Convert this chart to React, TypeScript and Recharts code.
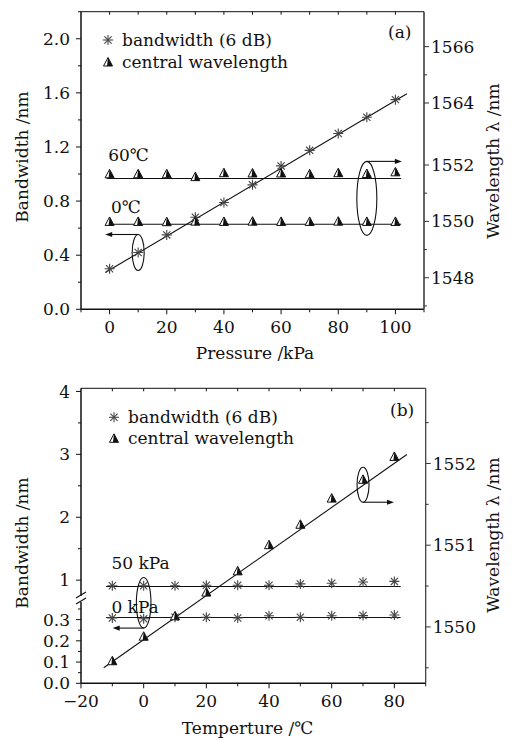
import React from 'react';
import {
  ComposedChart,
  Scatter,
  Line,
  XAxis,
  YAxis,
  ReferenceDot,
  Legend,
  Label,
} from 'recharts';

const FONT = '"DejaVu Serif", "Liberation Serif", serif';
const FS = 17;
const INK = '#111';
const STAR = '#444';

// ---------- panel (a): pressure sweep ----------
const pressureKPa = [0, 10, 20, 30, 40, 50, 60, 70, 80, 90, 100];
const bandwidthA = [0.3, 0.42, 0.55, 0.68, 0.79, 0.92, 1.06, 1.175, 1.3, 1.42, 1.55];
const wavelength60C = [1551.67, 1551.67, 1551.67, 1551.57, 1551.71, 1551.7, 1551.7, 1551.67, 1551.71, 1551.68, 1551.74];
const wavelength0C = [1549.98, 1549.98, 1549.97, 1549.99, 1549.98, 1549.99, 1549.98, 1549.98, 1549.99, 1549.98, 1549.98];
const fitBandwidthA = [
  { x: -1.5, y: 0.272 },
  { x: 104, y: 1.593 },
];
const level60C = [
  { x: -1, y: 1551.52 },
  { x: 102, y: 1551.52 },
];
const level0C = [
  { x: -1, y: 1549.9 },
  { x: 102, y: 1549.9 },
];

const pressureTicks = [-10, 0, 10, 20, 30, 40, 50, 60, 70, 80, 90, 100, 110];
const pressureLabels = ['', '0', '', '20', '', '40', '', '60', '', '80', '', '100', ''];
const bandwidthTicksA = [0, 0.2, 0.4, 0.6, 0.8, 1.0, 1.2, 1.4, 1.6, 1.8, 2.0, 2.2];
const bandwidthLabelsA = ['0.0', '', '0.4', '', '0.8', '', '1.2', '', '1.6', '', '2.0', ''];
// right axis of (a) is broken between 1552 and 1564
const wavelengthTicksA = [1547, 1548, 1549, 1550, 1551, 1552, 1554.2, 1555.2, 1556.2];
const wavelengthLabelsA = ['', '1548', '', '1550', '', '1552', '1564', '', '1566'];

// ---------- panel (b): temperature sweep ----------
const temperatureC = [-10, 0, 10, 20, 30, 40, 50, 60, 70, 80];
const bandwidth50kPa = [0.91, 0.91, 0.91, 0.92, 0.92, 0.92, 0.94, 0.95, 0.97, 0.98];
const bandwidth0kPa = [0.308, 0.304, 0.311, 0.311, 0.308, 0.318, 0.311, 0.318, 0.319, 0.322];
const wavelengthB = [1549.58, 1549.88, 1550.13, 1550.42, 1550.68, 1551.0, 1551.25, 1551.57, 1551.8, 1552.08];
const fitWavelengthB = [
  { x: -12.75, y: 1549.5 },
  { x: 84, y: 1552.11 },
];
const level50kPa = [
  { x: -12, y: 0.9 },
  { x: 82, y: 0.9 },
];
const level0kPa = [
  { x: -12, y: 0.31 },
  { x: 82, y: 0.31 },
];

const temperatureTicks = [-20, -10, 0, 10, 20, 30, 40, 50, 60, 70, 80, 90];
const temperatureLabels = ['\u221220', '', '0', '', '20', '', '40', '', '60', '', '80', ''];
const bandwidthTicksB = [0, 0.05, 0.1, 0.15, 0.2, 0.25, 0.3, 0.35, 1, 1.5, 2, 2.5, 3, 3.5, 4];
const bandwidthLabelsB = ['0.0', '', '0.1', '', '0.2', '', '0.3', '', '1', '', '2', '', '3', '', '4'];
const wavelengthTicksB = [1549.5, 1550, 1550.5, 1551, 1551.5, 1552, 1552.5];
const wavelengthLabelsB = ['', '1550', '', '1551', '', '1552', ''];

// broken left axis of (b): 0–0.4 stretched below, 0.7–4 linear above
const BREAK_LOW = 0.4;
const bwPos = (v: number) => (v <= BREAK_LOW ? -0.64 + 3.375 * v : v);

const pts = (xs: number[], ys: number[], f: (v: number) => number = (v) => v) =>
  xs.map((x, i) => ({ x, y: f(ys[i]) }));
const seg = (d: { x: number; y: number }[], f: (v: number) => number) => d.map((p) => ({ x: p.x, y: f(p.y) }));

// ---------- marks ----------
const StarMark = ({ cx, cy }: { cx: number; cy: number }) => {
  const r = 5;
  const d = 3.6;
  return (
    <g stroke={STAR} strokeWidth={1.1}>
      <line x1={cx - r} y1={cy} x2={cx + r} y2={cy} />
      <line x1={cx} y1={cy - r} x2={cx} y2={cy + r} />
      <line x1={cx - d} y1={cy - d} x2={cx + d} y2={cy + d} />
      <line x1={cx - d} y1={cy + d} x2={cx + d} y2={cy - d} />
    </g>
  );
};

const TriMark = ({ cx, cy }: { cx: number; cy: number }) => (
  <g>
    <path d={`M${cx},${cy - 5}L${cx + 4.5},${cy + 3.5}L${cx - 4.5},${cy + 3.5}Z`} fill="#fff" stroke={INK} strokeWidth={1} />
    <path d={`M${cx},${cy - 5}L${cx + 4.5},${cy + 3.5}L${cx - 1},${cy + 3.5}Z`} fill={INK} />
  </g>
);

const starShape = (p: any) => <StarMark cx={p.cx} cy={p.cy} />;
const triShape = (p: any) => <TriMark cx={p.cx} cy={p.cy} />;

// ---------- ticks ----------
type Side = 'left' | 'right' | 'bottom' | 'top';
function makeTick(side: Side, values: number[], labels: string[]) {
  return (props: any) => {
    const { x, y, payload } = props;
    const i = values.findIndex((v) => Math.abs(v - payload.value) < 1e-6);
    const label = i >= 0 ? labels[i] : '';
    const len = side === 'top' ? 3 : label ? 5 : 3;
    const common = { fontFamily: FONT, fontSize: FS, fill: INK };
    if (side === 'left')
      return (
        <g>
          <line x1={x} y1={y} x2={x - len} y2={y} stroke={INK} />
          {label && (
            <text x={x - 11} y={y} dy="0.36em" textAnchor="end" {...common}>
              {label}
            </text>
          )}
        </g>
      );
    if (side === 'right')
      return (
        <g>
          <line x1={x} y1={y} x2={x + len} y2={y} stroke="#333" />
          {label && (
            <text x={x + 7} y={y} dy="0.36em" textAnchor="start" {...common}>
              {label}
            </text>
          )}
        </g>
      );
    if (side === 'top') return <line x1={x} y1={y} x2={x} y2={y + len} stroke={INK} />;
    return (
      <g>
        <line x1={x} y1={y} x2={x} y2={y + len} stroke={INK} />
        {label && (
          <text x={x} y={y + 18} dy="0.36em" textAnchor="middle" {...common}>
            {label}
          </text>
        )}
      </g>
    );
  };
}

// ---------- annotations ----------
const textShape = (txt: string, anchor: 'start' | 'middle' = 'start') => (p: any) => (
  <text x={p.cx} y={p.cy} dy="0.36em" textAnchor={anchor} fontFamily={FONT} fontSize={FS} fill={INK}>
    {txt}
  </text>
);

const ellipseArrow = (rx: number, ry: number, from: 'top' | 'bottom', dir: -1 | 1, len: number) => (p: any) => {
  const ay = from === 'top' ? p.cy - ry : p.cy + ry;
  const ex = p.cx + dir * len;
  return (
    <g fill="none" stroke={INK} strokeWidth={1.1}>
      <ellipse cx={p.cx} cy={p.cy} rx={rx} ry={ry} />
      <line x1={p.cx} y1={ay} x2={ex - dir * 5} y2={ay} />
      <path d={`M${ex},${ay}L${ex - dir * 7},${ay - 2.6}L${ex - dir * 7},${ay + 2.6}Z`} fill={INK} stroke="none" />
    </g>
  );
};

const breakShape = (p: any) => (
  <g>
    <rect x={p.cx - 2} y={p.cy - 3} width={4} height={6} fill="#fff" />
    <g stroke={INK} strokeWidth={1.1}>
      <line x1={p.cx - 5} y1={p.cy - 1} x2={p.cx + 5} y2={p.cy - 7} />
      <line x1={p.cx - 5} y1={p.cy + 5} x2={p.cx + 5} y2={p.cy - 1} />
    </g>
  </g>
);

const vTitle = (txt: string, x: number, y: number) => () => (
  <text transform={`translate(${x},${y}) rotate(-90)`} textAnchor="middle" dy="0.36em" fontFamily={FONT} fontSize={FS} fill={INK}>
    {txt}
  </text>
);
const hTitle = (txt: string, x: number, y: number) => () => (
  <text x={x} y={y} textAnchor="middle" dy="0.36em" fontFamily={FONT} fontSize={FS} fill={INK}>
    {txt}
  </text>
);

const legendContent = (rowH: number) => () => (
  <div style={{ fontFamily: FONT, fontSize: FS, color: INK, lineHeight: `${rowH}px`, whiteSpace: 'nowrap' }}>
    <div style={{ display: 'flex', alignItems: 'center', height: rowH }}>
      <svg width={14} height={rowH}>
        <StarMark cx={7} cy={rowH / 2} />
      </svg>
      <span style={{ marginLeft: 7 }}>bandwidth (6 dB)</span>
    </div>
    <div style={{ display: 'flex', alignItems: 'center', height: rowH }}>
      <svg width={14} height={rowH}>
        <TriMark cx={7} cy={rowH / 2 + 0.5} />
      </svg>
      <span style={{ marginLeft: 7 }}>central wavelength</span>
    </div>
  </div>
);

function PanelA() {
  return (
    <ComposedChart width={514} height={370} margin={{ top: 0, right: 0, bottom: 10.7, left: 0 }}>
      <XAxis
        xAxisId="b"
        type="number"
        dataKey="x"
        domain={[-10, 110]}
        allowDataOverflow
        ticks={pressureTicks}
        interval={0}
        tickSize={0}
        tickMargin={0}
        tick={makeTick('bottom', pressureTicks, pressureLabels)}
        height={50}
        axisLine={{ stroke: INK, strokeWidth: 1.5 }}
      >
        <Label content={hTitle('Pressure /kPa', 255, 353)} />
      </XAxis>
      <XAxis
        xAxisId="t"
        orientation="top"
        type="number"
        dataKey="x"
        domain={[-10, 110]}
        allowDataOverflow
        ticks={pressureTicks.slice(1, -1)}
        interval={0}
        tickSize={0}
        tickMargin={0}
        tick={makeTick('top', pressureTicks, pressureLabels)}
        height={11.7}
        axisLine={{ stroke: INK, strokeWidth: 1 }}
      />
      <YAxis
        yAxisId="l"
        type="number"
        domain={[0, 2.2]}
        allowDataOverflow
        ticks={bandwidthTicksA}
        interval={0}
        tickSize={0}
        tickMargin={0}
        tick={makeTick('left', bandwidthTicksA, bandwidthLabelsA)}
        width={81}
        axisLine={{ stroke: INK, strokeWidth: 1.5 }}
      >
        <Label content={vTitle('Bandwidth /nm', 22, 157)} />
      </YAxis>
      <YAxis
        yAxisId="r"
        orientation="right"
        type="number"
        domain={[1546.88, 1557.44]}
        allowDataOverflow
        ticks={wavelengthTicksA}
        interval={0}
        tickSize={0}
        tickMargin={0}
        tick={makeTick('right', wavelengthTicksA, wavelengthLabelsA)}
        width={90}
        axisLine={{ stroke: '#555', strokeWidth: 1.8 }}
      >
        <Label content={vTitle('Wavelength \u03bb /nm', 493, 161)} />
      </YAxis>
      <Legend
        layout="horizontal"
        verticalAlign="middle"
        align="center"
        content={legendContent(22)}
        wrapperStyle={{ top: 29, left: 101, width: 'auto', height: 'auto' }}
      />

      <Line xAxisId="b" yAxisId="r" data={level60C} dataKey="y" stroke={INK} strokeWidth={1.1} dot={false} isAnimationActive={false} />
      <Line xAxisId="b" yAxisId="r" data={level0C} dataKey="y" stroke={INK} strokeWidth={1.1} dot={false} isAnimationActive={false} />
      <Line xAxisId="b" yAxisId="l" data={fitBandwidthA} dataKey="y" stroke={INK} strokeWidth={1.1} dot={false} isAnimationActive={false} />
      <Scatter xAxisId="b" yAxisId="l" data={pts(pressureKPa, bandwidthA)} dataKey="y" shape={starShape} isAnimationActive={false} />
      <Scatter xAxisId="b" yAxisId="r" data={pts(pressureKPa, wavelength60C)} dataKey="y" shape={triShape} isAnimationActive={false} />
      <Scatter xAxisId="b" yAxisId="r" data={pts(pressureKPa, wavelength0C)} dataKey="y" shape={triShape} isAnimationActive={false} />

      <ReferenceDot xAxisId="b" yAxisId="l" x={-0.5} y={1.14} ifOverflow="visible" shape={textShape('60\u2103')} />
      <ReferenceDot xAxisId="b" yAxisId="l" x={0.5} y={0.76} ifOverflow="visible" shape={textShape('0\u2103')} />
      <ReferenceDot xAxisId="b" yAxisId="l" x={101.5} y={2.05} ifOverflow="visible" shape={textShape('(a)', 'middle')} />
      <ReferenceDot xAxisId="b" yAxisId="l" x={10} y={0.42} ifOverflow="visible" shape={ellipseArrow(6, 18, 'top', -1, 33)} />
      <ReferenceDot xAxisId="b" yAxisId="l" x={90} y={0.82} ifOverflow="visible" shape={ellipseArrow(10, 37, 'top', 1, 35)} />
    </ComposedChart>
  );
}

function PanelB() {
  return (
    <ComposedChart width={514} height={370} margin={{ top: 0, right: 0, bottom: 6.7, left: 0 }}>
      <XAxis
        xAxisId="b"
        type="number"
        dataKey="x"
        domain={[-20, 90]}
        allowDataOverflow
        ticks={temperatureTicks}
        interval={0}
        tickSize={0}
        tickMargin={0}
        tick={makeTick('bottom', temperatureTicks, temperatureLabels)}
        height={50}
        axisLine={{ stroke: INK, strokeWidth: 1.5 }}
      >
        <Label content={hTitle('Temperture /\u2103', 247.5, 358)} />
      </XAxis>
      <XAxis
        xAxisId="t"
        orientation="top"
        type="number"
        dataKey="x"
        domain={[-20, 90]}
        allowDataOverflow
        ticks={temperatureTicks.slice(1, -1)}
        interval={0}
        tickSize={0}
        tickMargin={0}
        tick={makeTick('top', temperatureTicks, temperatureLabels)}
        height={18.3}
        axisLine={{ stroke: INK, strokeWidth: 1 }}
      />
      <YAxis
        yAxisId="l"
        type="number"
        domain={[-0.64, 4.05]}
        allowDataOverflow
        ticks={bandwidthTicksB.map(bwPos)}
        interval={0}
        tickSize={0}
        tickMargin={0}
        tick={makeTick('left', bandwidthTicksB.map(bwPos), bandwidthLabelsB)}
        width={81}
        axisLine={{ stroke: INK, strokeWidth: 1.5 }}
      >
        <Label content={vTitle('Bandwidth /nm', 22, 173)} />
      </YAxis>
      <YAxis
        yAxisId="r"
        orientation="right"
        type="number"
        domain={[1549.31, 1552.92]}
        allowDataOverflow
        ticks={wavelengthTicksB}
        interval={0}
        tickSize={0}
        tickMargin={0}
        tick={makeTick('right', wavelengthTicksB, wavelengthLabelsB)}
        width={88.3}
        axisLine={{ stroke: '#333', strokeWidth: 1.2 }}
      >
        <Label content={vTitle('Wavelength \u03bb /nm', 493, 165)} />
      </YAxis>
      <Legend
        layout="horizontal"
        verticalAlign="middle"
        align="center"
        content={legendContent(20.6)}
        wrapperStyle={{ top: 37.4, left: 107, width: 'auto', height: 'auto' }}
      />

      <Line xAxisId="b" yAxisId="l" data={seg(level50kPa, bwPos)} dataKey="y" stroke={INK} strokeWidth={1.1} dot={false} isAnimationActive={false} />
      <Line xAxisId="b" yAxisId="l" data={seg(level0kPa, bwPos)} dataKey="y" stroke={INK} strokeWidth={1.1} dot={false} isAnimationActive={false} />
      <Line xAxisId="b" yAxisId="r" data={fitWavelengthB} dataKey="y" stroke={INK} strokeWidth={1.1} dot={false} isAnimationActive={false} />
      <Scatter xAxisId="b" yAxisId="l" data={pts(temperatureC, bandwidth50kPa, bwPos)} dataKey="y" shape={starShape} isAnimationActive={false} />
      <Scatter xAxisId="b" yAxisId="l" data={pts(temperatureC, bandwidth0kPa, bwPos)} dataKey="y" shape={starShape} isAnimationActive={false} />
      <Scatter xAxisId="b" yAxisId="r" data={pts(temperatureC, wavelengthB)} dataKey="y" shape={triShape} isAnimationActive={false} />

      <ReferenceDot xAxisId="b" yAxisId="l" x={-10.3} y={1.28} ifOverflow="visible" shape={textShape('50 kPa')} />
      <ReferenceDot xAxisId="b" yAxisId="l" x={-10.3} y={0.57} ifOverflow="visible" shape={textShape('0 kPa')} />
      <ReferenceDot xAxisId="b" yAxisId="l" x={82.5} y={3.7} ifOverflow="visible" shape={textShape('(b)', 'middle')} />
      <ReferenceDot xAxisId="b" yAxisId="l" x={0} y={0.64} ifOverflow="visible" shape={ellipseArrow(7.3, 25.3, 'bottom', -1, 31)} />
      <ReferenceDot xAxisId="b" yAxisId="r" x={70} y={1551.74} ifOverflow="visible" shape={ellipseArrow(6, 17.5, 'bottom', 1, 31)} />
      <ReferenceDot xAxisId="b" yAxisId="l" x={-20} y={0.7} ifOverflow="visible" shape={breakShape} />
    </ComposedChart>
  );
}

export default function App() {
  return (
    <div style={{ position: 'absolute', left: 0, top: 0, width: 514, height: 740, background: '#fff' }}>
      <PanelA />
      <PanelB />
    </div>
  );
}
